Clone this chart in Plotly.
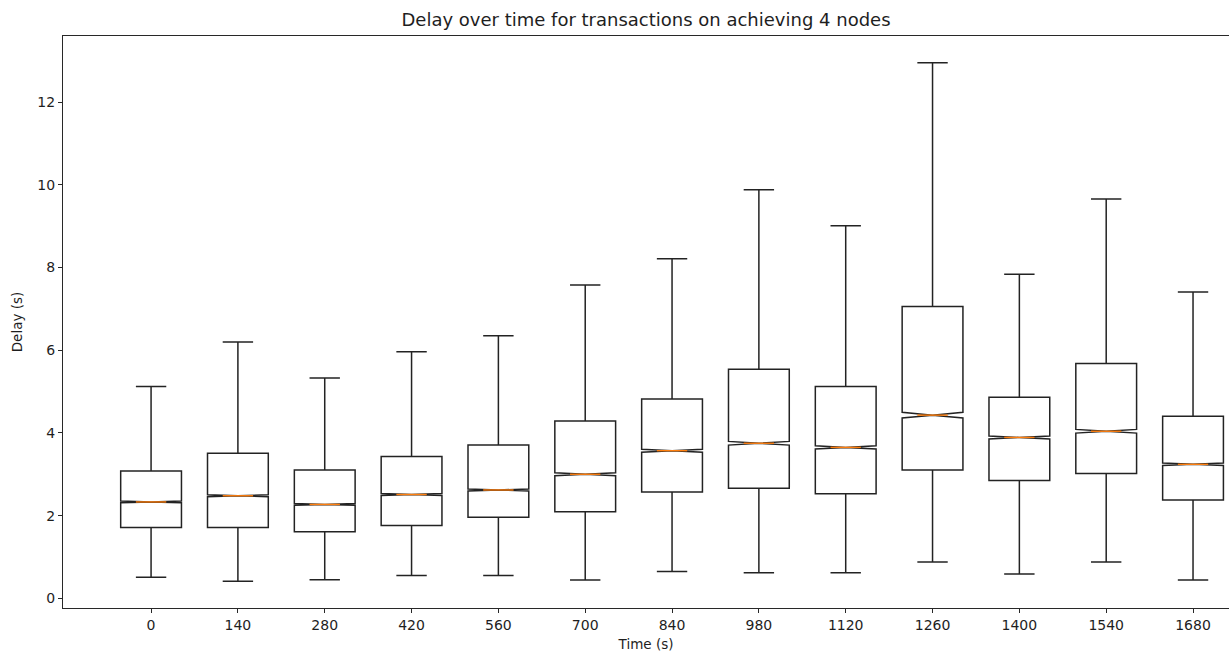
import plotly.graph_objects as go

# Transaction delay statistics per time bucket (seconds)
times = [0, 140, 280, 420, 560, 700, 840, 980, 1120, 1260, 1400, 1540, 1680]
time_labels = [str(t) for t in times]

upper_whisker = [5.12, 6.20, 5.33, 5.96, 6.35, 7.58, 8.21, 9.88, 9.01, 12.95, 7.84, 9.66, 7.41]
q3_values = [3.08, 3.51, 3.10, 3.43, 3.71, 4.29, 4.82, 5.54, 5.12, 7.06, 4.86, 5.68, 4.40]
median_values = [2.33, 2.48, 2.27, 2.51, 2.62, 3.00, 3.57, 3.75, 3.65, 4.43, 3.89, 4.04, 3.24]
q1_values = [1.71, 1.71, 1.61, 1.76, 1.96, 2.09, 2.57, 2.66, 2.53, 3.10, 2.85, 3.02, 2.38]
lower_whisker = [0.51, 0.41, 0.45, 0.55, 0.55, 0.44, 0.65, 0.62, 0.62, 0.88, 0.59, 0.88, 0.44]
notch_halfspan = [0.02, 0.025, 0.02, 0.025, 0.025, 0.035, 0.035, 0.045, 0.04, 0.07, 0.035, 0.045, 0.03]

ytick_values = [0, 2, 4, 6, 8, 10, 12]

BOX_WIDTH = 98
NOTCH_WIDTH = 0.5
EDGE = "rgb(40,40,40)"
TEXT = "rgb(30,30,30)"
FONT = "DejaVu Sans"

fig = go.Figure()

fig.add_trace(go.Box(
    x=times,
    q1=q1_values,
    median=median_values,
    q3=q3_values,
    lowerfence=lower_whisker,
    upperfence=upper_whisker,
    notchspan=notch_halfspan,
    notched=True,
    notchwidth=NOTCH_WIDTH,
    width=BOX_WIDTH,
    whiskerwidth=0.5,
    boxpoints=False,
    line=dict(color="rgb(35,35,35)", width=1.5),
    fillcolor="rgba(0,0,0,0)",
    showlegend=False,
    hoverinfo="skip",
))

# Orange median segments spanning the notch waist
half = BOX_WIDTH * 0.5 * (1 - NOTCH_WIDTH)
mx, my = [], []
for t, m in zip(times, median_values):
    mx += [t - half, t + half, None]
    my += [m, m, None]
fig.add_trace(go.Scatter(
    x=mx, y=my, mode="lines",
    line=dict(color="#ff7f0e", width=1.4),
    showlegend=False, hoverinfo="skip",
))

axis_common = dict(
    showline=True, linecolor=EDGE, linewidth=1,
    ticks="outside", ticklen=4, tickwidth=1, tickcolor=EDGE,
    showgrid=False, zeroline=False,
    tickfont=dict(family=FONT, size=14, color=TEXT),
)

fig.update_layout(
    width=1229, height=656,
    margin=dict(l=63, r=0, t=36, b=48),
    plot_bgcolor="white", paper_bgcolor="white",
    title=dict(
        text="Delay over time for transactions on achieving 4 nodes",
        x=0.5, xref="paper", xanchor="center",
        y=1 - 20 / 656, yref="container", yanchor="middle",
        font=dict(family=FONT, size=18, color=TEXT),
    ),
    xaxis=dict(
        range=[-142, 1738],
        tickmode="array", tickvals=times, ticktext=time_labels,
        mirror=True,
        title=dict(text="Time (s)", standoff=7,
                   font=dict(family=FONT, size=13.5, color=TEXT)),
        **axis_common,
    ),
    yaxis=dict(
        range=[-0.235, 13.6],
        tickmode="array", tickvals=ytick_values,
        title=dict(text="Delay (s)", standoff=11,
                   font=dict(family=FONT, size=13.5, color=TEXT)),
        **axis_common,
    ),
)

fig.write_html("out.html")
